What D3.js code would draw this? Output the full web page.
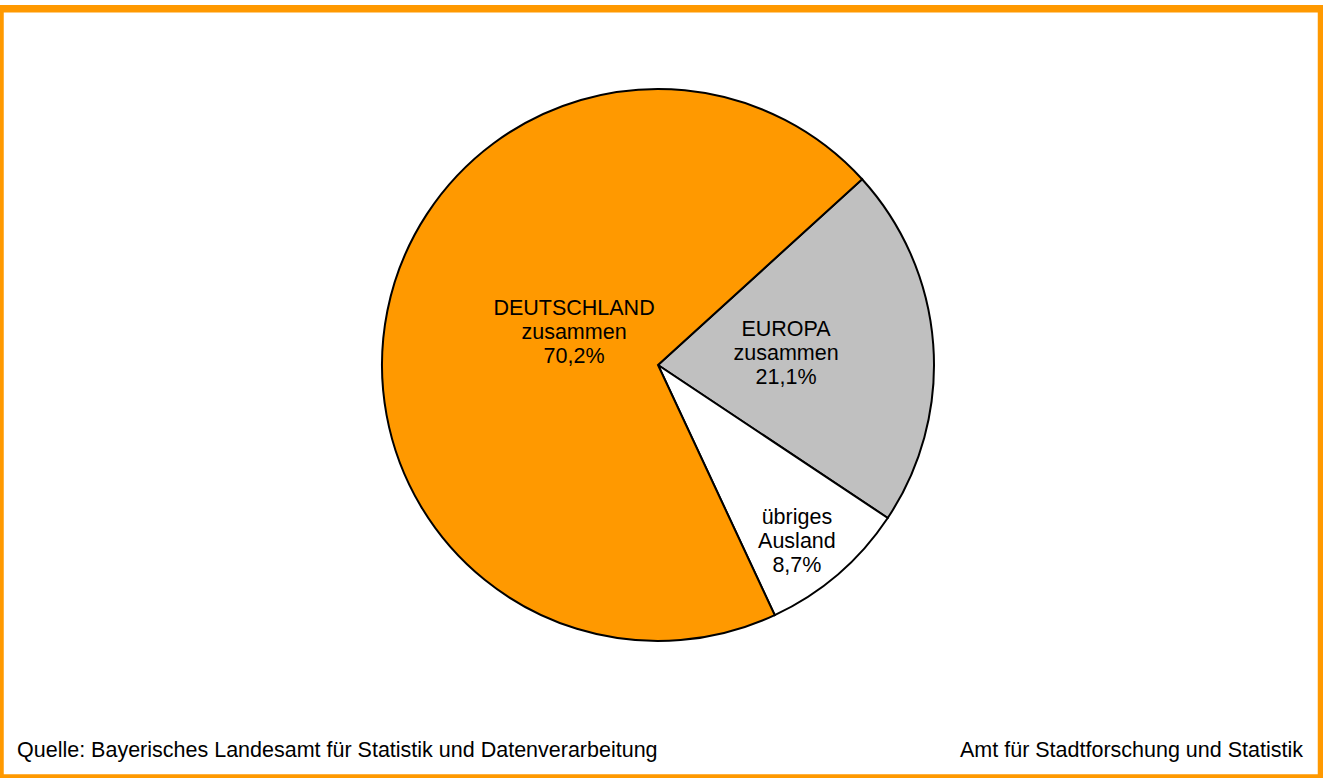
<!DOCTYPE html>
<html>
<head>
<meta charset="utf-8">
<script src="https://cdn.jsdelivr.net/npm/d3@7"></script>
<style>
  html, body { margin: 0; padding: 0; background: #fff; }
  svg { display: block; }
  text { font-family: "Liberation Sans", Arial, sans-serif; fill: #000; }
</style>
</head>
<body>
<svg id="chart" width="1323" height="778"></svg>
<script>
// Herkunft der Zugezogenen – Anteile in Prozent
const categories = ["EUROPA", "übriges", "DEUTSCHLAND"];
const labelLines = [["EUROPA", "zusammen"], ["übriges", "Ausland"], ["DEUTSCHLAND", "zusammen"]];
const shares = [21.1, 8.7, 70.2];
const sliceColors = ["#c0c0c0", "#ffffff", "#ff9900"];
const percentLabels = shares.map(v => v.toFixed(1).replace(".", ",") + "%");

// label placement inside each slice: fraction of radius and angle (degrees, clockwise from 12 o'clock)
const labelPlacement = [
  { r: 0.466, angle: 84.6 },
  { r: 0.812, angle: 141.7 },
  { r: 0.327, angle: 291.5 }
];

const sourceText = "Quelle: Bayerisches Landesamt für Statistik und Datenverarbeitung";
const authorText = "Amt für Stadtforschung und Statistik";

const W = 1323, H = 778;
const svg = d3.select("#chart");

// frame
svg.append("rect")
  .attr("x", 0).attr("y", 8.75)
  .attr("width", 1321.5).attr("height", 769.25)
  .attr("fill", "none")
  .attr("stroke", "#ff9900")
  .attr("stroke-width", 7.5);

const cx = 658, cy = 365, radius = 276;
const startDeg = 47.7;

const pie = d3.pie().sort(null).value(d => d)
  .startAngle(startDeg * Math.PI / 180)
  .endAngle((startDeg + 360) * Math.PI / 180);
const arcs = pie(shares);
const arc = d3.arc().innerRadius(0).outerRadius(radius);

const g = svg.append("g").attr("transform", `translate(${cx},${cy})`);

g.selectAll("path.slice")
  .data(arcs)
  .join("path")
  .attr("class", "slice")
  .attr("d", arc)
  .attr("fill", (d, i) => sliceColors[i])
  .attr("stroke", "#000")
  .attr("stroke-width", 2)
  .attr("stroke-linejoin", "miter");

// slice labels: three lines, centered on the middle line
const lineGap = 24;
const labels = g.selectAll("text.lbl")
  .data(arcs)
  .join("text")
  .attr("class", "lbl")
  .attr("text-anchor", "middle")
  .style("font-size", "21.5px")
  .attr("transform", (d, i) => {
    const p = labelPlacement[i];
    const a = p.angle * Math.PI / 180;
    const x = Math.sin(a) * p.r * radius;
    const y = -Math.cos(a) * p.r * radius;
    return `translate(${x},${y})`;
  });

labels.each(function (d, i) {
  const t = d3.select(this);
  const lines = labelLines[i].concat([percentLabels[i]]);
  lines.forEach((s, k) => {
    t.append("tspan")
      .attr("x", 0)
      .attr("y", (k - 1) * lineGap + 7.5)
      .text(s);
  });
});

// footer
svg.append("text")
  .attr("x", 17).attr("y", 757)
  .style("font-size", "21.5px")
  .text(sourceText);

svg.append("text")
  .attr("x", 1303).attr("y", 757)
  .attr("text-anchor", "end")
  .style("font-size", "21.5px")
  .text(authorText);
</script>
</body>
</html>
